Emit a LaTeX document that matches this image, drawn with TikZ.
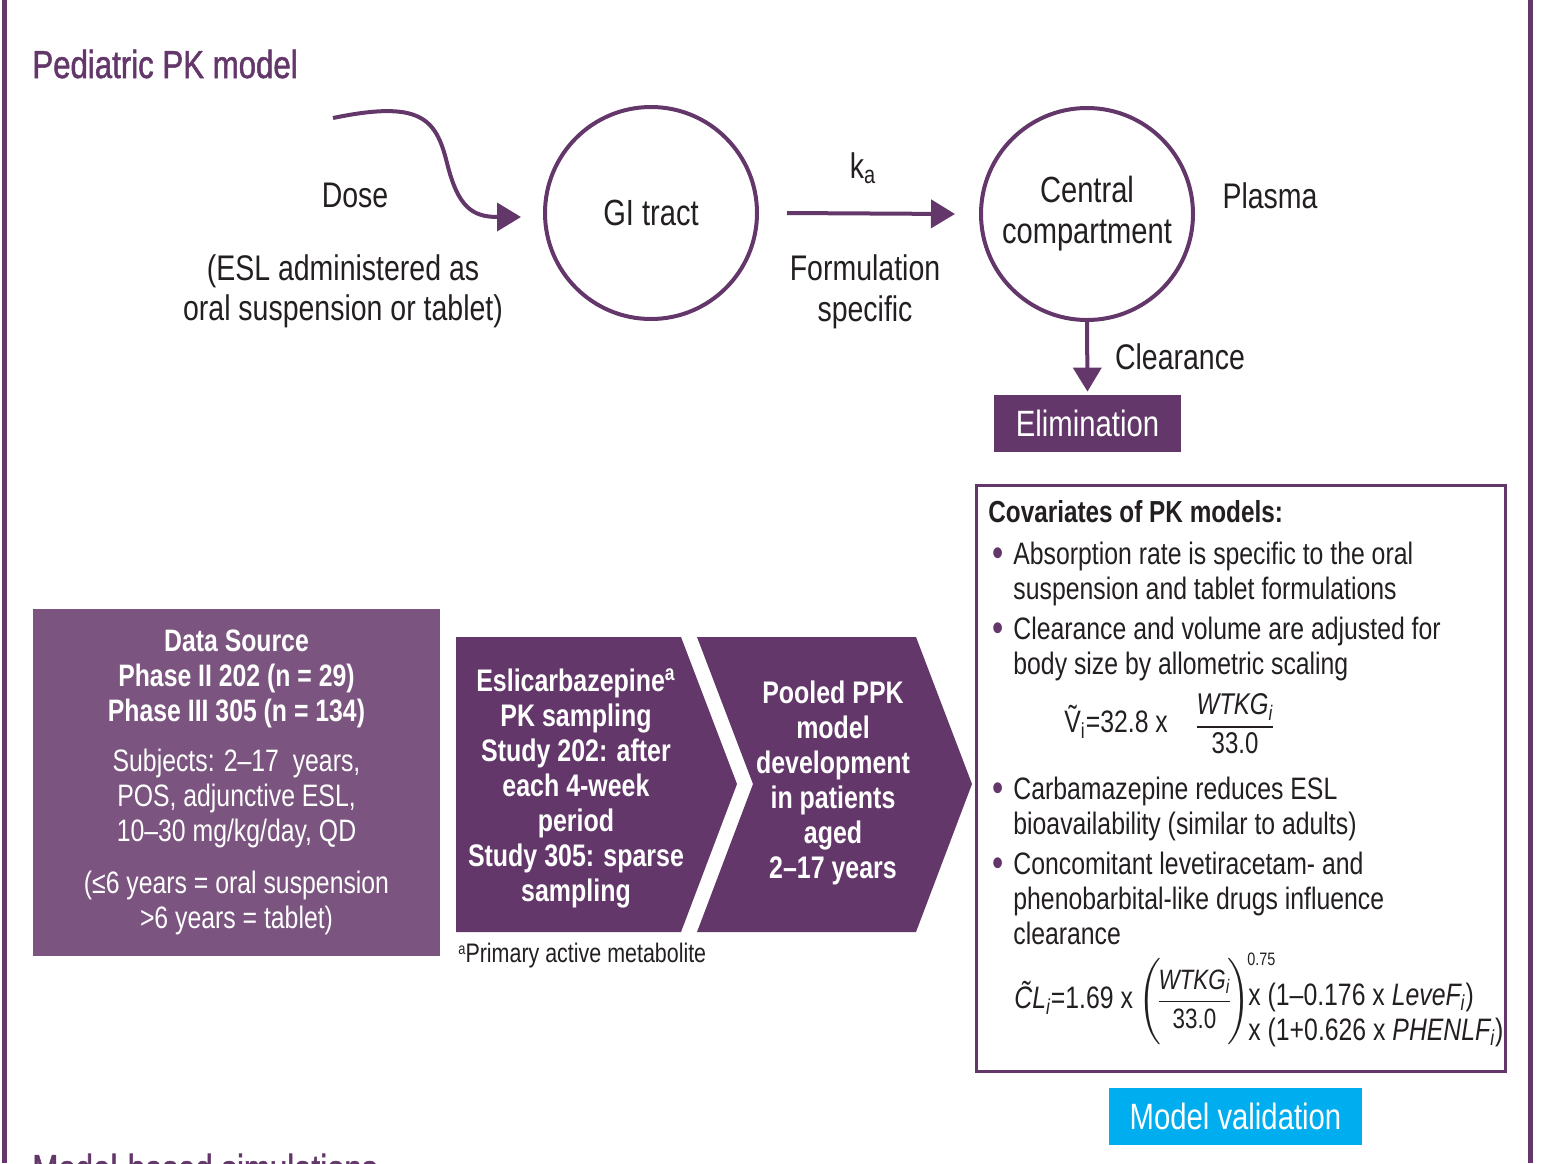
\documentclass[tikz,border=0pt]{standalone}
\usepackage{fontspec}
\setmainfont[FakeStretch=0.8]{Liberation Sans}
\newfontfamily\headfont[FakeStretch=0.8, FakeBold=1.3]{Liberation Sans}
\usepackage{amsmath}
\usetikzlibrary{arrows.meta, positioning}
\definecolor{pkpurple}{HTML}{64376B}
\definecolor{srcpurple}{HTML}{7B5580}
\definecolor{valcyan}{HTML}{00AEEF}
\definecolor{ink}{HTML}{231F20}
\newcommand{\covbullet}{\llap{\textcolor{pkpurple}{\raisebox{-0.6pt}{\fontsize{20}{17.5}\selectfont\textbullet}}\hspace{5pt}}}

\begin{document}
\begin{tikzpicture}[
    x=0.5pt, y=-0.5pt,
    lbl/.style={font=\fontsize{17.8}{20}\selectfont, text=ink, align=center, inner sep=0pt},
    heading/.style={font=\headfont\fontsize{19.5}{21}\selectfont, text=pkpurple, inner sep=0pt, anchor=base west},
    compart/.style={circle, draw=pkpurple, line width=2pt, minimum size=106pt,
                    font=\fontsize{18.2}{20.5}\selectfont, text=ink, align=center},
    flow/.style={draw=pkpurple, line width=2pt, -{Triangle[length=12pt,width=14pt]}},
    solidbox/.style={fill=pkpurple, text=white, inner sep=0pt,
                     minimum height=28.5pt, font=\fontsize{18.3}{20}\selectfont},
    chevtxt/.style={text=white, align=center, inner sep=0pt,
                    font=\bfseries\fontsize{15.6}{17.5}\selectfont},
    covtxt/.style={text=ink, align=left, inner sep=0pt, anchor=north west,
                   font=\fontsize{15.5}{17.5}\selectfont},
    formula/.style={text=ink, inner sep=0pt, font=\fontsize{15.5}{17.5}\selectfont}
]
\useasboundingbox (0,0) rectangle (1558,1163);

% Frame
\draw[pkpurple, line width=2.6pt] (4.5,0) -- (4.5,1163);
\draw[pkpurple, line width=2.8pt] (1530.5,0) -- (1530.5,1163);

% Headings
\node[heading] (title) at (32,78) {Pediatric PK model};
\node[heading] (sim)   at (32,1182) {Model-based simulations};

% Compartments
\node[compart] (gi) at (651,213) {GI tract};
\node[compart] (cc) at (1087,214) {Central\\compartment};
\node[solidbox, minimum width=93.5pt] (elim) at (1087.5,423.5) {Elimination};

% Dose input
\coordinate (dosein)  at (333,118);
\coordinate (dosehit) at (521,217);
\draw[flow] (dosein) .. controls (420,100) and (436,118) .. (447,163)
                     .. controls (458,207) and (472,217) .. (dosehit);
\node[lbl] (dose) at (355,195) {Dose};
\node[lbl] (esl)  at (343,291) {(ESL administered as\\oral suspension or tablet)};

% Absorption and clearance
\draw[flow] ([xshift=14pt]gi.east) -- ([xshift=-12pt]cc.west);
\node[lbl] (ka)   at (863,168) {k\textsubscript{a}};
\node[lbl, font=\fontsize{17.8}{20.5}\selectfont] (form) at (865,292) {Formulation\\specific};
\node[lbl] (plasma) at (1270,196) {Plasma};
\draw[flow] (cc.south) -- ([yshift=1.5pt]elim.north);
\node[lbl] (clear) at (1180,357) {Clearance};

% Data source
\node[fill=srcpurple, text=white, minimum width=203.5pt, minimum height=173.5pt,
      align=center, font=\fontsize{15.5}{17.5}\selectfont] (src) at (236.5,782.5)
  {\textbf{Data Source}\\\textbf{Phase II 202 (n = 29)}\\\textbf{Phase III 305 (n = 134)}\\[7.5pt]
   Subjects: 2--17\ \ years,\\POS, adjunctive ESL,\\10--30 mg/kg/day, QD\\[8.5pt]
   (≤6 years = oral suspension\\>6 years = tablet)};

% Chevrons
\fill[pkpurple] (456,637) -- (681,637) -- (737,784) -- (681,932) -- (456,932) -- cycle;
\fill[pkpurple] (697,637) -- (916,637) -- (972,784) -- (916,932) -- (697,932) -- (753,784) -- cycle;
\node[chevtxt] (samp) at (576,788) {Eslicarbazepine\textsuperscript{a}\\PK sampling\\Study 202: after\\each 4-week\\period\\Study 305: sparse\\sampling};
\node[chevtxt] (ppk)  at (833,783) {Pooled PPK\\model\\development\\in patients\\aged\\2--17 years};
\node[lbl, anchor=west, font=\fontsize{13.4}{15}\selectfont] (fn) at (458,956) {{\fontsize{8}{9}\selectfont\raisebox{4pt}{a}}Primary active metabolite};

% Covariates
\node[draw=pkpurple, line width=1.5pt, minimum width=264.5pt, minimum height=293pt] (cov) at (1240.5,778) {};
\node[covtxt, anchor=west, font=\bfseries\fontsize{15.2}{17.5}\selectfont] (covhead) at (988,512) {Covariates of PK models:};
\node[covtxt] (cov1) at (1013,542) {\covbullet Absorption rate is specific to the oral\\suspension and tablet formulations};
\node[covtxt] (cov2) at (1013,617) {\covbullet Clearance and volume are adjusted for\\body size by allometric scaling};
\node[formula, anchor=west] (vlhs) at (1064,722) {\~{V}\textsubscript{i}=32.8 x};
\node[formula, font=\fontsize{15}{17}\selectfont] (vfrac) at (1235,724) {$\dfrac{\text{\itshape WTKG\textsubscript{i}}}{\text{33.0}}$};
\node[covtxt] (cov3) at (1013,777) {\covbullet Carbamazepine reduces ESL\\bioavailability (similar to adults)};
\node[covtxt] (cov4) at (1013,852) {\covbullet Concomitant levetiracetam- and\\phenobarbital-like drugs influence\\clearance};
\node[formula, anchor=west] (cllhs) at (1014,999)
  {\textit{\~{C}L\textsubscript{i}}=1.69 x\,{\fontsize{14}{16}\selectfont$\Bigg(\!\dfrac{\text{\itshape WTKG\textsubscript{i}}}{\text{33.0}}\!\Bigg)^{\!\text{\fontsize{9}{10}\selectfont 0.75}}$}};
\node[formula, anchor=west] (cla) at (1248,997) {x (1--0.176 x \textit{LeveF\textsubscript{i}})};
\node[formula, anchor=west] (clb) at (1248,1032) {x (1+0.626 x \textit{PHENLF\textsubscript{i}})};

% Validation
\node[solidbox, fill=valcyan, minimum width=126.5pt] (valid) at (1235.5,1116.5) {Model validation};

\end{tikzpicture}
\end{document}
